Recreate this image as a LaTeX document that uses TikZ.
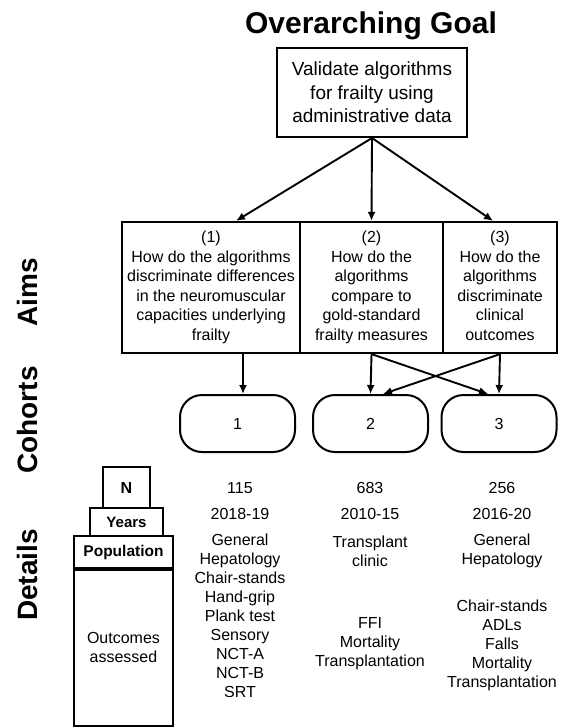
\documentclass[tikz,border=0pt]{standalone}
\usepackage{fontspec}
\setmainfont{Liberation Sans}
\usetikzlibrary{arrows.meta}
\begin{document}
\begin{tikzpicture}[x=1pt,y=-1pt,
  heading/.style={font=\fontsize{28}{32}\selectfont\bfseries},
  side/.style={heading, rotate=90, anchor=base, inner sep=0pt},
  goalbox/.style={draw, line width=2pt, minimum width=190pt, minimum height=89pt, inner sep=0pt, align=center, font=\fontsize{19}{23.5}\selectfont},
  aimbox/.style={draw, line width=2.2pt, minimum height=131pt, inner sep=0pt, align=center, font=\fontsize{16}{19.6}\selectfont},
  cohort/.style={draw, line width=2pt, rounded corners=22pt, minimum width=115pt, minimum height=57pt, inner sep=0pt, font=\fontsize{16}{19}\selectfont},
  detbox/.style={draw, line width=2pt, inner sep=0pt, align=center, font=\fontsize{16}{19}\selectfont},
  coltext/.style={align=center, inner sep=0pt, font=\fontsize{16}{19}\selectfont},
  arr/.style={line width=1.9pt, -{Latex[length=9pt,width=8pt]}}
]
\useasboundingbox (0,0) rectangle (560,728);
\fill[white] (0,0) rectangle (560,728);

% Title and goal
\node[heading, anchor=base, font=\fontsize{30}{34}\selectfont\bfseries] (title) at (371,33) {Overarching Goal};
\node[goalbox] (goal) at (372,92.5) {Validate algorithms\\for frailty using\\administrative data};

% Side labels
\node[side] (laims) at (37,292) {Aims};
\node[side] (lcoh) at (37,420) {Cohorts};
\node[side] (ldet) at (37,575) {Details};

% Aims
\node[aimbox, minimum width=178pt] (a1) at (211,287.5) {\strut(1)\\How do the algorithms\\discriminate differences\\in the neuromuscular\\capacities underlying\\frailty\strut};
\node[aimbox, minimum width=143pt] (a2) at (371.5,287.5) {\strut(2)\\How do the\\algorithms\\compare to\\gold-standard\\frailty measures\strut};
\node[aimbox, minimum width=114pt] (a3) at (500,287.5) {\strut(3)\\How do the\\algorithms\\discriminate\\clinical\\outcomes\strut};

% Goal to aims
\draw[arr] (goal.south) -- ([xshift=25pt]a1.north);
\draw[arr] (goal.south) -- (a2.north);
\draw[arr] (goal.south) -- ([xshift=-7pt]a3.north);

% Cohorts
\node[cohort] (c1) at (237.5,423.5) {1};
\node[cohort] (c2) at (370.5,423.5) {2};
\node[cohort] (c3) at (499,423.5) {3};

% Aims to cohorts
\draw[arr] ([xshift=32pt]a1.south) -- ([xshift=5.5pt]c1.north);
\draw[arr] (a2.south) -- (c2.north);
\draw[arr] (a2.south) -- ([xshift=-11pt]c3.north);
\draw[arr] (a3.south) -- (c3.north);
\draw[arr] (a3.south) -- ([xshift=12.5pt]c2.north);

% Detail header boxes
\node[detbox, minimum width=47pt, minimum height=41pt, font=\fontsize{16}{19}\selectfont\bfseries] (dn) at (126.5,487.5) {N};
\node[detbox, minimum width=73pt, minimum height=28pt, font=\fontsize{15}{18}\selectfont\bfseries] (dy) at (126.5,522) {Years};
\node[detbox, minimum width=99pt, minimum height=32pt, font=\fontsize{15.5}{18}\selectfont\bfseries] (dp) at (123.5,552) {Population};
\node[detbox, minimum width=99pt, minimum height=158pt] (do) at (123.5,647) {Outcomes\\assessed};
\draw[line width=4pt] (dp.south west) -- (dp.south east);

% Column texts
\node[coltext] (n1) at (240,488) {115};
\node[coltext] (n2) at (370,488) {683};
\node[coltext] (n3) at (502,488) {256};
\node[coltext] (y1) at (240,514) {2018-19};
\node[coltext] (y2) at (370,514) {2010-15};
\node[coltext] (y3) at (502,514) {2016-20};
\node[coltext] (p1) at (240,551) {General\\Hepatology};
\node[coltext] (p2) at (370,551) {Transplant\\clinic};
\node[coltext] (p3) at (502,551) {General\\Hepatology};
\node[coltext] (o1) at (240,635) {Chair-stands\\Hand-grip\\Plank test\\Sensory\\NCT-A\\NCT-B\\SRT};
\node[coltext] (o2) at (370,644) {FFI\\Mortality\\Transplantation};
\node[coltext] (o3) at (502,645) {Chair-stands\\ADLs\\Falls\\Mortality\\Transplantation};
\end{tikzpicture}
\end{document}
